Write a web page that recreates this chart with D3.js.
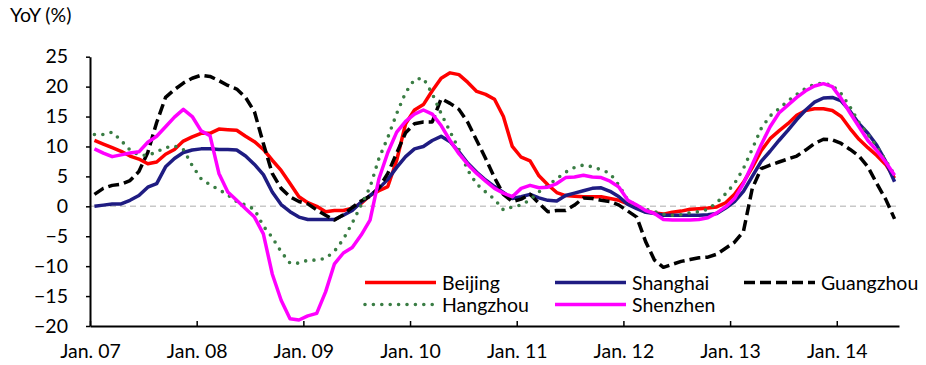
<!DOCTYPE html>
<html>
<head>
<meta charset="utf-8">
<script src="https://cdn.jsdelivr.net/npm/d3@7/dist/d3.min.js"></script>
<style>
  body { margin: 0; background: #fff; }
  text { font-family: Lato, "Open Sans", sans-serif; fill: #000; }
</style>
</head>
<body>
<svg id="chart" width="926" height="365"></svg>
<script>
// Monthly year-on-year change in new home prices (%), Jan 2007 – Jul 2014
const months = d3.timeMonth.range(new Date(2007, 0, 1), new Date(2014, 7, 1));
const tickLabels = ["Jan. 07", "Jan. 08", "Jan. 09", "Jan. 10", "Jan. 11", "Jan. 12", "Jan. 13", "Jan. 14"];
const yTicks = [-20, -15, -10, -5, 0, 5, 10, 15, 20, 25];

const beijing = [
  11.0, 10.4, 9.8, 9.2, 8.4, 7.9, 7.1, 7.4, 8.7, 9.5, 10.9, 11.6,
  12.2, 12.2, 12.9, 12.8, 12.7, 11.7, 10.8, 9.5, 7.7, 6.0, 3.8, 1.6,
  0.6, 0.0, -0.9, -0.7, -0.7, -0.3, 0.5, 1.8, 2.6, 3.3, 7.7, 13.8,
  16.1, 17.0, 19.3, 21.4, 22.3, 22.0, 20.7, 19.2, 18.7, 17.9, 15.0, 10.0,
  8.2, 7.6, 5.1, 3.6, 2.3, 1.8, 1.7, 1.6, 1.6, 1.6, 1.3, 1.0,
  0.4, -0.2, -0.8, -1.1, -1.3, -1.0, -0.8, -0.5, -0.4, -0.3, -0.1, 0.6,
  2.0, 4.0, 6.5, 9.3, 11.3, 12.6, 13.8, 15.2, 16.0, 16.3, 16.3, 16.0,
  15.0, 13.0, 11.2, 9.8, 8.5, 7.0, 4.7
];
const shanghai = [
  0.0, 0.2, 0.4, 0.4, 1.0, 1.8, 3.2, 3.8, 6.6, 8.0, 9.0, 9.4,
  9.6, 9.6, 9.5, 9.5, 9.4, 8.4, 7.0, 5.3, 2.4, 0.3, -0.9, -1.8,
  -2.2, -2.2, -2.2, -2.2, -1.5, -0.7, 0.7, 1.8, 3.0, 4.5, 6.5, 8.3,
  9.6, 10.0, 11.0, 11.7, 10.8, 9.1, 7.2, 5.7, 4.4, 3.3, 2.3, 1.3,
  1.6, 2.0, 1.4, 1.0, 0.9, 1.8, 2.2, 2.6, 3.0, 3.1, 2.5, 1.6,
  0.3, -0.4, -1.0, -1.2, -1.5, -1.5, -1.5, -1.5, -1.5, -1.4, -1.2, -0.3,
  0.8, 2.5, 5.0, 7.5, 9.2, 11.0, 12.7, 14.5, 16.1, 17.4, 18.1, 18.2,
  17.6, 15.9, 13.8, 12.2, 10.2, 7.5, 4.1
];
const guangzhou = [
  2.0, 3.0, 3.5, 3.7, 4.3, 5.8, 9.0, 14.0, 18.2, 19.5, 20.6, 21.4,
  21.9, 21.7, 21.0, 20.2, 19.6, 18.2, 15.8, 10.5, 5.5, 3.0, 1.6, 0.8,
  0.4, -0.6, -1.5, -2.3, -1.4, -0.2, 0.9, 1.7, 3.1, 5.5, 8.9, 12.3,
  13.8, 14.1, 14.1, 18.0, 17.2, 16.2, 14.0, 11.0, 8.0, 4.8, 2.0, 0.8,
  1.2, 2.0, 0.5, -0.9, -0.7, -0.7, 0.2, 1.4, 1.3, 1.0, 0.8, 0.2,
  -0.8, -1.8, -5.9, -9.0, -10.2, -9.7, -9.2, -8.9, -8.6, -8.5, -8.0, -7.0,
  -6.0, -4.2, 3.0, 6.3, 6.9, 7.4, 7.9, 8.4, 9.4, 10.5, 11.2, 11.1,
  10.5, 9.5, 8.4, 6.6, 3.8, 1.2, -2.1
];
const hangzhou = [
  12.0, 12.0, 12.4, 11.0, 9.4, 8.6, 8.5, 9.1, 9.8, 10.1, 9.5, 6.8,
  4.6, 3.6, 2.8, 1.9, 0.8, 0.2, -0.5, -3.3, -5.2, -7.6, -9.5, -9.5,
  -9.0, -9.0, -8.7, -7.5, -5.5, -2.8, 0.2, 3.2, 8.0, 11.5, 15.5, 19.0,
  21.2, 21.4, 18.8, 15.5, 12.5, 9.5, 6.0, 3.7, 2.4, 1.2, -0.6, -0.1,
  0.2, 1.1, 2.4, 3.5, 4.6, 5.7, 6.5, 6.9, 6.6, 6.1, 5.5, 3.5,
  1.0, 0.1, -0.5, -0.9, -1.3, -1.5, -1.4, -1.1, -0.9, -0.5, 0.6, 2.1,
  3.8, 6.3, 9.6, 13.0, 15.1, 16.3, 17.6, 18.7, 19.7, 20.4, 20.6, 20.2,
  18.8, 16.6, 14.0, 12.0, 10.0, 7.7, 5.2
];
const shenzhen = [
  9.6, 8.9, 8.3, 8.6, 8.9, 9.1, 10.7, 11.7, 13.3, 14.9, 16.2, 15.0,
  12.6, 11.8, 5.5, 2.4, 1.0, -0.4, -1.8, -4.6, -11.3, -15.7, -18.8, -19.0,
  -18.3, -17.9, -14.3, -9.6, -7.8, -6.9, -4.8, -2.3, 4.6, 9.0, 12.4, 14.2,
  15.4, 16.1, 15.4, 13.5, 11.0, 8.8, 7.0, 5.5, 4.2, 3.0, 2.2, 1.6,
  3.0, 3.5, 3.1, 3.2, 3.8, 4.8, 4.9, 5.2, 4.9, 4.8, 4.2, 3.2,
  1.0, 0.2, -0.7, -1.2, -2.2, -2.3, -2.3, -2.3, -2.2, -1.9, -1.1, -0.1,
  1.3, 3.8, 7.0, 10.3, 13.3, 15.6, 16.9, 18.2, 19.3, 20.1, 20.5, 20.0,
  18.0, 15.6, 13.3, 11.0, 9.3, 7.4, 5.2
];

const cities = ["Beijing", "Shanghai", "Guangzhou", "Hangzhou", "Shenzhen"];
const values = [beijing, shanghai, guangzhou, hangzhou, shenzhen];

// Line styling per city
const styles = {
  Beijing:   { color: "#ff0000", width: 3.5, dash: null, cap: "butt" },
  Shanghai:  { color: "#1f1c82", width: 3.5, dash: null, cap: "butt" },
  Guangzhou: { color: "#000000", width: 3.5, dash: "11 5", cap: "butt" },
  Hangzhou:  { color: "#3a7d44", width: 3.6, dash: "0 8.4", cap: "round" },
  Shenzhen:  { color: "#ff00ff", width: 3.5, dash: null, cap: "butt" }
};

const svg = d3.select("#chart");
const plotLeft = 90, plotRight = 899, plotTop = 56.7, plotBottom = 326;

// Month slots: each month occupies one slot, the line point sits in its centre
const x = d3.scaleLinear().domain([0, months.length]).range([plotLeft, plotRight]);
const y = d3.scaleLinear().domain([-20, 25]).range([plotBottom, plotTop]);

// Zero reference line
svg.append("line")
  .attr("x1", plotLeft).attr("x2", plotRight)
  .attr("y1", y(0)).attr("y2", y(0))
  .attr("stroke", "#c8c8c8").attr("stroke-width", 1.5)
  .attr("stroke-dasharray", "6 4");

// Y axis
const yAxis = svg.append("g")
  .attr("transform", `translate(${plotLeft},0)`)
  .call(d3.axisLeft(y).tickValues(yTicks).tickSize(4).tickSizeOuter(0).tickPadding(18));
yAxis.select(".domain").attr("stroke", "#000").attr("stroke-width", 2);
yAxis.selectAll(".tick line").attr("stroke", "#000").attr("stroke-width", 1.5);
yAxis.selectAll(".tick text").style("font-size", "19.5px").attr("fill", "#000");

// X axis: ticks mark the start of each January
const janIdx = tickLabels.map((_, k) => k * 12);
const xAxis = svg.append("g")
  .attr("transform", `translate(0,${plotBottom})`)
  .call(d3.axisBottom(x).tickValues(janIdx).tickSize(-5).tickSizeOuter(0)
    .tickFormat((d, k) => tickLabels[k]));
xAxis.select(".domain").attr("stroke", "#000").attr("stroke-width", 2);
xAxis.selectAll(".tick line").attr("stroke", "#000").attr("stroke-width", 1.5);
xAxis.selectAll(".tick text").style("font-size", "19.5px").attr("fill", "#000")
  .attr("y", 0).attr("dy", 32);

// Axis title
svg.append("text").attr("x", 10).attr("y", 22)
  .style("font-size", "19.5px").text("YoY (%)");

// Series lines
const line = d3.line()
  .x((d, i) => x(i + 0.5))
  .y(d => y(d));

cities.forEach((name, k) => {
  const s = styles[name];
  svg.append("path")
    .datum(values[k])
    .attr("fill", "none")
    .attr("stroke", s.color)
    .attr("stroke-width", s.width)
    .attr("stroke-linejoin", "round")
    .attr("stroke-linecap", s.cap)
    .attr("stroke-dasharray", s.dash)
    .attr("d", line);
});

// Legend: two rows, three columns
const legendPos = {
  Beijing:   [365, 282.5],
  Shanghai:  [555, 282.5],
  Guangzhou: [744, 282.5],
  Hangzhou:  [365, 304.5],
  Shenzhen:  [555, 304.5]
};
cities.forEach(name => {
  const s = styles[name];
  const [lx, ly] = legendPos[name];
  const g = svg.append("g");
  g.append("line")
    .attr("x1", lx).attr("x2", lx + 71)
    .attr("y1", ly).attr("y2", ly)
    .attr("stroke", s.color)
    .attr("stroke-width", s.width)
    .attr("stroke-linecap", s.cap)
    .attr("stroke-dasharray", s.dash);
  g.append("text")
    .attr("x", lx + 77).attr("y", ly)
    .attr("dy", "0.36em")
    .style("font-size", "19.5px")
    .text(name);
});
</script>
</body>
</html>
